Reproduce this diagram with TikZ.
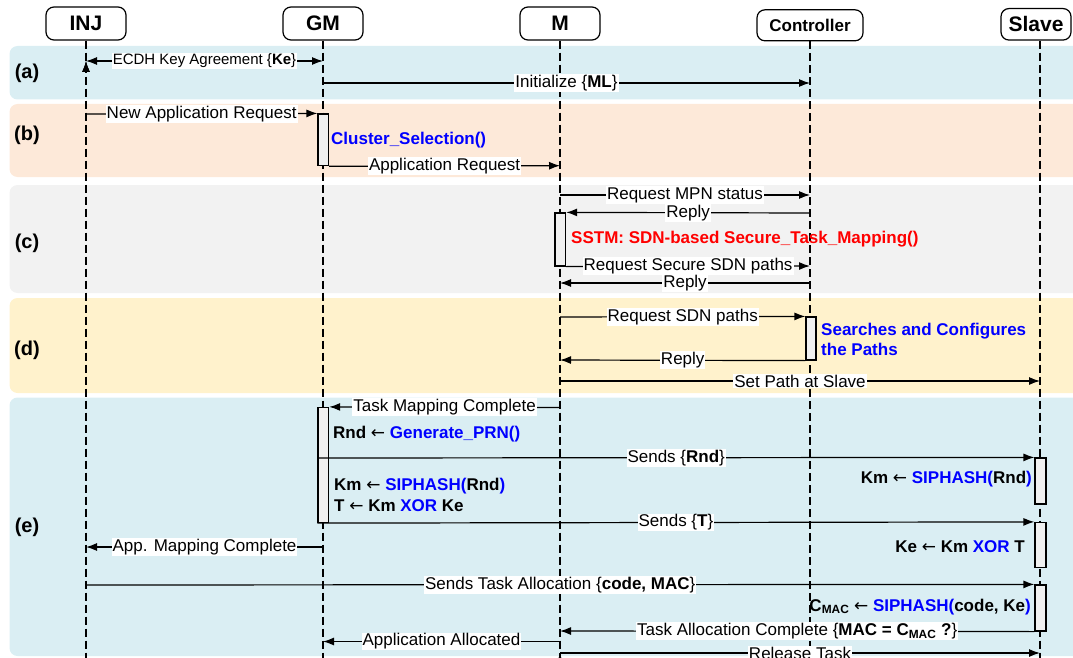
\documentclass[tikz,border=0pt]{standalone}
\usepackage{fontspec}
\setmainfont{Liberation Sans}
\newfontfamily\arrfont{DejaVu Sans}
\usepackage{tikz}
\usetikzlibrary{arrows.meta, positioning}
\definecolor{bandblue}{RGB}{218,238,243}
\definecolor{bandpeach}{RGB}{253,233,217}
\definecolor{bandgray}{RGB}{242,242,242}
\definecolor{bandyellow}{RGB}{255,242,204}
\definecolor{actgray}{RGB}{240,240,240}
\definecolor{fnblue}{RGB}{0,0,255}
\definecolor{fnred}{RGB}{255,0,0}
\newcommand{\msgfont}{\fontsize{17}{20}\selectfont}
\newcommand{\getsarrow}{{\arrfont\mdseries ←}}
\tikzstyle{head}    = [draw, fill=white, rounded corners=8pt, line width=1.2pt, minimum width=80, minimum height=33, inner sep=0pt, font=\bfseries\fontsize{21}{25}\selectfont]
\tikzstyle{life}    = [draw, line width=1.3pt, dash pattern=on 8pt off 4pt]
\tikzstyle{act}     = [draw, fill=actgray, line width=1.2pt, minimum width=10.6, inner sep=0pt]
\tikzstyle{msg}     = [draw, line width=1.2pt, -{Latex[length=11pt,width=8pt]}]
\tikzstyle{msgboth} = [draw, line width=1.2pt, {Latex[length=11pt,width=8pt]}-{Latex[length=11pt,width=8pt]}]
\tikzstyle{lbl}     = [fill=white, inner sep=1pt, font=\msgfont]
\tikzstyle{fn}      = [anchor=west, inner sep=0pt, align=left, font=\bfseries\msgfont]
\tikzstyle{band}    = [rounded corners=8pt]
\tikzstyle{tag}     = [font=\bfseries\fontsize{20}{24}\selectfont]

\begin{document}
\begin{tikzpicture}[x=1pt, y=-1pt]

\useasboundingbox (0,0) rectangle (1073,658);

% bands
\fill [band, bandblue]   (9.5,46)    rectangle (1090,99.5);
\fill [band, bandpeach]  (9.5,104)   rectangle (1090,177);
\fill [band, bandgray]   (9.5,185)   rectangle (1090,293);
\fill [band, bandyellow] (9.5,298)   rectangle (1090,393);
\fill [band, bandblue]   (9.5,397.5) rectangle (1090,656);

\node [tag] at ( 27 , 73 ) (taga) {(a)};
\node [tag] at ( 27 , 135 ) (tagb) {(b)};
\node [tag] at ( 27 , 243 ) (tagc) {(c)};
\node [tag] at ( 27 , 350 ) (tagd) {(d)};
\node [tag] at ( 27 , 527 ) (tage) {(e)};

% nodes
\node [head]                                         at ( 86 , 23.5 ) (inj)   {INJ};
\node [head]                                         at ( 323 , 23.5 ) (gm)    {GM};
\node [head]                                         at ( 560 , 23.5 ) (m)     {M};
\node [head, minimum width=106, minimum height=31,
       font=\bfseries\msgfont]                       at ( 810 , 25.3 ) (ctrl)  {Controller};
\node [head, minimum width=70, minimum height=31.5]  at ( 1036 , 24.3 ) (slave) {Slave};

% lifelines
\coordinate (bot) at (0,665);
\foreach \n in {inj,gm,m,ctrl}
  \path [life] (\n.south) -- (\n.south |- bot);
\path [life] ([xshift=4]slave.south) -- ([xshift=4]slave.south |- bot);

% activations
\node [act, minimum height=51.7]                    at ( 323.3 , 139.85 ) (sel)  {};
\node [act, minimum height=53]                      at ( 560.3 , 239.5 )  (sstm) {};
\node [act, minimum height=43, minimum width=10]    at ( 811 , 338.5 )    (srch) {};
\node [act, minimum height=115]                     at ( 323.3 , 465 )    (gen)  {};
\node [act, minimum height=46, minimum width=11]    at ( 1040.5 , 481 )   (hash) {};
\node [act, minimum height=45, minimum width=11]    at ( 1040.5 , 545 )   (xor)  {};
\node [act, minimum height=46, minimum width=11]    at ( 1040.5 , 608 )   (mac)  {};

% message ends
\coordinate (ke1)  at (86,61);     \coordinate (ke2)  at (323,61);
\coordinate (ml1)  at (323,83);    \coordinate (ml2)  at (810,83);
\coordinate (nar1) at (86,114);
\coordinate (ar2)  at (560,165.7);
\coordinate (mpn1) at (560,195);   \coordinate (mpn2) at (810,195);
\coordinate (rep1) at (810,213);
\coordinate (sec2) at (810,266);
\coordinate (rep3) at (810,283);   \coordinate (rep4) at (560,283);
\coordinate (sdn1) at (560,317);
\coordinate (rep6) at (560,360);
\coordinate (set1) at (560,381);   \coordinate (set2) at (1040,381);
\coordinate (tmc1) at (560,407.5);
\coordinate (rnd1) at (318,458);
\coordinate (amc1) at (323,547);   \coordinate (amc2) at (86,547);
\coordinate (sta1) at (86,585);
\coordinate (tac2) at (560,631);
\coordinate (aa1)  at (560,641.5); \coordinate (aa2)  at (323,641.5);
\coordinate (rt1)  at (560,653);   \coordinate (rt2)  at (1040,653);

%  edges
\path [msgboth] (ke1) edge node [lbl, font=\fontsize{15}{18}\selectfont] {ECDH Key Agreement \{\textbf{Ke}\}} (ke2);
\path [msg] (ml1)             edge node [lbl] {Initialize \{\textbf{ML}\}}                 (ml2)
            (nar1)            edge node [lbl] {New Application Request}                    (sel.north west)
            (sel.south east)  edge node [lbl] {Application Request}                        (ar2)
            (mpn1)            edge node [lbl] {Request MPN status}                         (mpn2)
            (rep1)            edge node [lbl] {Reply}                                      (sstm.north east)
            (sstm.south east) edge node [lbl] {Request Secure SDN paths}                   (sec2)
            (rep3)            edge node [lbl] {Reply}                                      (rep4)
            (sdn1)            edge node [lbl] {Request SDN paths}                          (srch.north west)
            (srch.south west) edge node [lbl] {Reply}                                      (rep6)
            (set1)            edge node [lbl] {Set Path at Slave}                          (set2)
            (tmc1)            edge node [lbl] {Task Mapping Complete}                      (gen.north east)
            (rnd1)            edge node [lbl] {Sends \{\textbf{Rnd}\}}                     (hash.north west)
            (gen.south west)  edge node [lbl] {Sends \{\textbf{T}\}}                       (xor.north west)
            (amc1)            edge node [lbl] {App. Mapping Complete}                      (amc2)
            (sta1)            edge node [lbl] {Sends Task Allocation \{\textbf{code, MAC}\}} (mac.north west)
            (mac.south west)  edge node [lbl] {Task Allocation Complete \{\textbf{MAC = C\textsubscript{MAC} ?}\}} (tac2)
            (aa1)             edge node [lbl] {Application Allocated}                      (aa2)
            (rt1)             edge node [lbl] {Release Task}                               (rt2);

% operations
\node [fn, text=fnblue] at ( 331 , 140 ) (seltxt)  {Cluster\_Selection()};
\node [fn, text=fnred]  at ( 571 , 239 ) (sstmtxt) {SSTM: SDN-based Secure\_Task\_Mapping()};
\node [fn, text=fnblue] at ( 821 , 339 ) (srchtxt) {Searches and Configures\\the Paths};
\node [fn]              at ( 333 , 434 ) (gentxt)  {Rnd \getsarrow{} \textcolor{fnblue}{Generate\_PRN()}};
\node [fn, font=\bfseries\fontsize{17}{21}\selectfont]
                        at ( 334 , 494.5 ) (kmtxt) {Km \getsarrow{} \textcolor{fnblue}{SIPHASH(}Rnd\textcolor{fnblue}{)}\\T \getsarrow{} Km \textcolor{fnblue}{XOR} Ke};
\node [fn, anchor=east] at ( 1032 , 479 ) (kmslv)  {Km \getsarrow{} \textcolor{fnblue}{SIPHASH(}Rnd\textcolor{fnblue}{)}};
\node [fn, anchor=east] at ( 1025 , 547 ) (keslv)  {Ke \getsarrow{} Km \textcolor{fnblue}{XOR} T};
\node [fn, anchor=east] at ( 1031 , 607 ) (cmac)   {C\textsubscript{MAC} \getsarrow{} \textcolor{fnblue}{SIPHASH(}code, Ke\textcolor{fnblue}{)}};

\end{tikzpicture}
\end{document}
